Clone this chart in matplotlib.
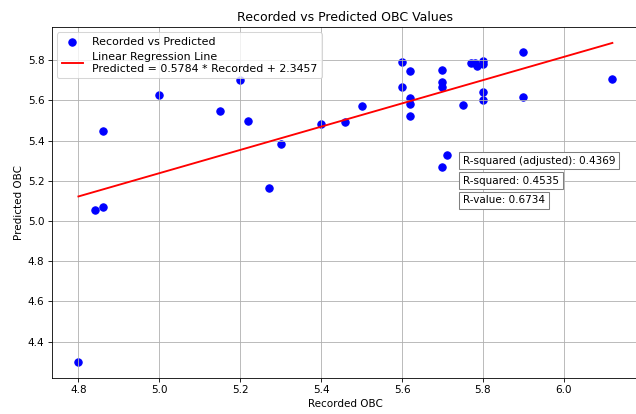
import numpy as np
import matplotlib.pyplot as plt

# recorded vs predicted OBC values
recorded = [4.80, 4.84, 4.86, 4.86, 5.00, 5.15, 5.20, 5.22, 5.27, 5.30,
            5.40, 5.46, 5.50, 5.60, 5.60, 5.62, 5.62, 5.62, 5.62, 5.70,
            5.70, 5.70, 5.70, 5.71, 5.75, 5.77, 5.78, 5.785, 5.80, 5.80,
            5.80, 5.80, 5.90, 5.90, 6.12]
predicted = [4.30, 5.055, 5.07, 5.45, 5.625, 5.545, 5.70, 5.495, 5.165, 5.385,
             5.48, 5.49, 5.57, 5.79, 5.665, 5.745, 5.612, 5.58, 5.52, 5.75,
             5.69, 5.668, 5.27, 5.33, 5.578, 5.784, 5.784, 5.772, 5.797, 5.78,
             5.64, 5.60, 5.84, 5.615, 5.705]

slope = 0.5784
intercept = 2.3457
stats = [("R-squared (adjusted)", 0.4369), ("R-squared", 0.4535), ("R-value", 0.6734)]

recorded = np.array(recorded)
predicted = np.array(predicted)

fig = plt.figure(figsize=(8.4801, 5.5201), dpi=75)
ax = fig.add_axes([0.0813, 0.0877, 0.9235, 0.8471])

ax.scatter(recorded, predicted, color='blue', s=50, label='Recorded vs Predicted')

x_line = np.array([recorded.min(), recorded.max()])
ax.plot(x_line, slope * x_line + intercept, color='red', linewidth=1.8,
        label=f'Linear Regression Line\nPredicted = {slope:.4f} * Recorded + {intercept:.4f}')

ax.set_title('Recorded vs Predicted OBC Values')
ax.set_xlabel('Recorded OBC')
ax.set_ylabel('Predicted OBC')
ax.legend(loc='upper left', fontsize=10.5)
ax.grid(True)

ypos = [0.61, 0.553, 0.497]
for (name, val), y in zip(stats, ypos):
    ax.text(0.7, y, f'{name}: {val:.4f}', transform=ax.transAxes, fontsize=10,
            bbox=dict(boxstyle='square,pad=0.35', facecolor='white', edgecolor='gray'))

fig.savefig('out.png')
plt.close()
